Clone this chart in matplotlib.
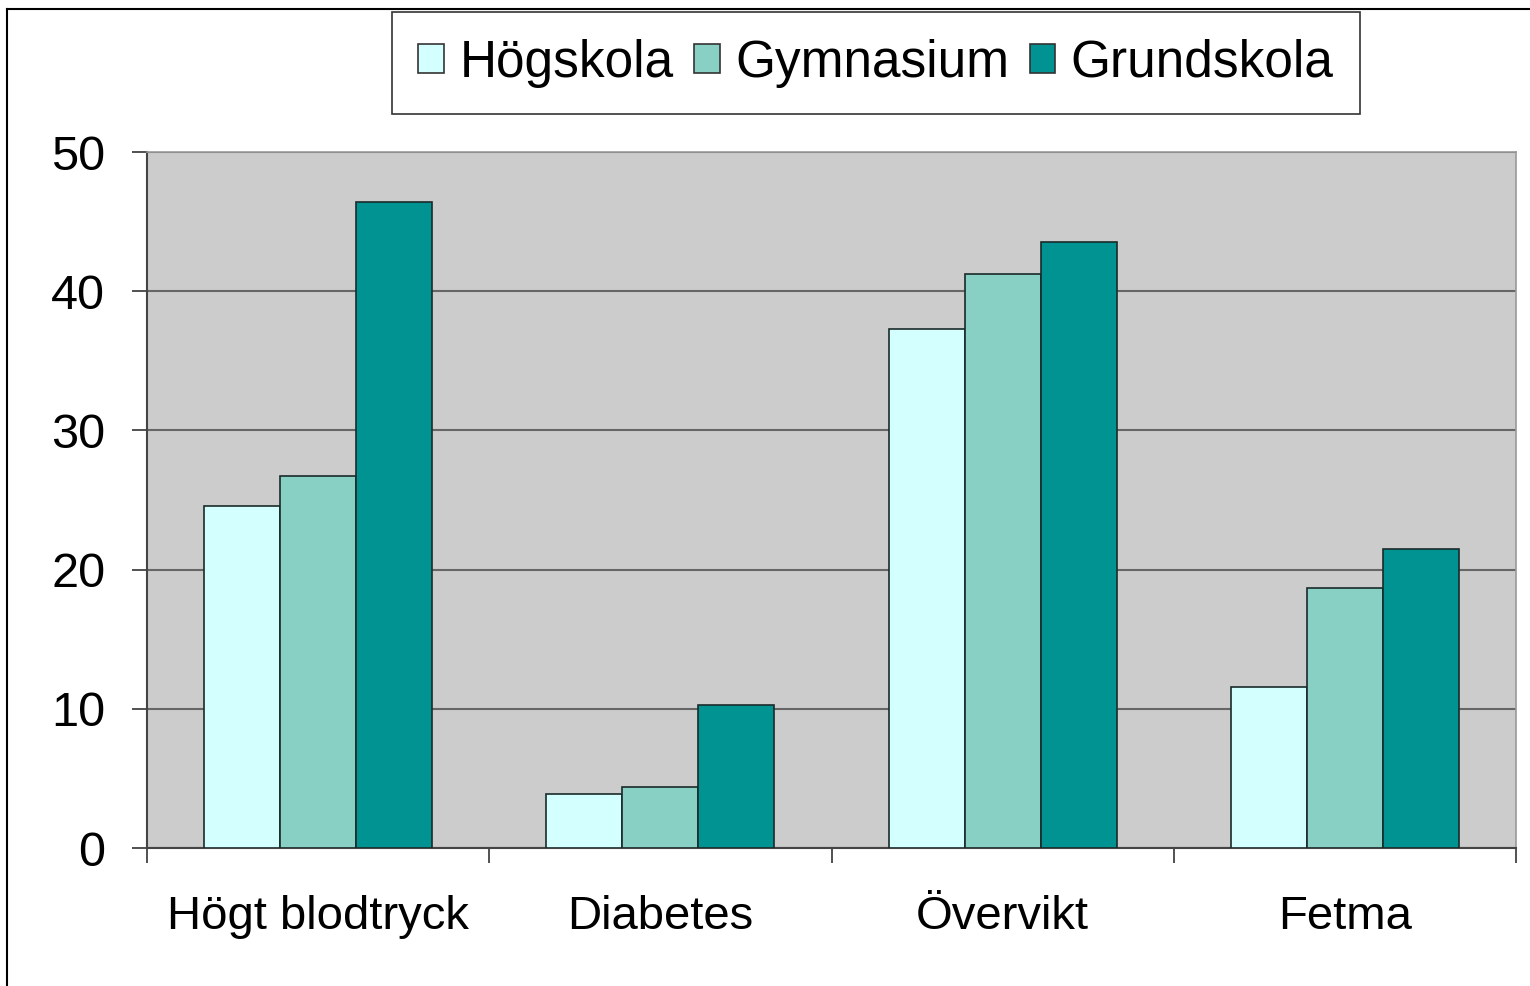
import numpy as np
import matplotlib
matplotlib.use('Agg')
import matplotlib.pyplot as plt
from matplotlib.lines import Line2D

plt.rcParams['font.family'] = ['Liberation Sans', 'DejaVu Sans']

categories = ['Högt blodtryck', 'Diabetes', 'Övervikt', 'Fetma']
series_names = ['Högskola', 'Gymnasium', 'Grundskola']
hogskola = [24.6, 3.9, 37.3, 11.6]
gymnasium = [26.7, 4.4, 41.2, 18.7]
grundskola = [46.4, 10.3, 43.5, 21.5]
colors = ['#D4FFFF', '#88CFC4', '#009391']

fig = plt.figure(figsize=(15.3, 9.86), dpi=100)
ax = fig.add_axes([147 / 1530, 1 - 848 / 986, (1516 - 147) / 1530, (848 - 152) / 986])
ax.set_facecolor('#CCCCCC')

x = np.arange(len(categories))
w = 0.222
for i, vals in enumerate([hogskola, gymnasium, grundskola]):
    ax.bar(x + (i - 1) * w, vals, w, color=colors[i], edgecolor='#1a2a2a',
           linewidth=1.2, label=series_names[i], zorder=3)

ax.set_xlim(-0.5, len(categories) - 0.5)
ax.set_ylim(0, 50)
ax.set_yticks([0, 10, 20, 30, 40, 50])
ax.yaxis.grid(True, color='#666666', linewidth=1.5, zorder=1)
ax.set_axisbelow(True)

ax.set_xticks(x)
ax.set_xticklabels(categories)
ax.set_xticks(np.arange(-0.5, len(categories), 1), minor=True)
ax.tick_params(axis='x', which='major', length=0, pad=34, labelsize=34)
ax.tick_params(axis='x', which='minor', length=11, width=1.2, color='#333333', direction='out')
ax.tick_params(axis='y', length=11, width=1.2, color='#333333', pad=19, labelsize=35)

for s in ['left', 'bottom']:
    ax.spines[s].set_color('#444444')
    ax.spines[s].set_linewidth(1.5)
for s in ['top', 'right']:
    ax.spines[s].set_color('#999999')
    ax.spines[s].set_linewidth(1.2)

leg = fig.legend(loc='center', bbox_to_anchor=(876 / 1530, 1 - 63 / 986), ncol=3,
                 fontsize=37, frameon=True, fancybox=False, edgecolor='black',
                 handlelength=0.5, handleheight=0.5, handletextpad=0.3,
                 columnspacing=0.4, borderpad=0.52, borderaxespad=0)
leg.get_frame().set_linewidth(1.2)
for h in leg.legend_handles:
    h.set_edgecolor('#333333')
    h.set_linewidth(1.2)

fig.add_artist(Line2D([7 / 1530, 7 / 1530], [0, 1 - 9 / 986], color='black', linewidth=1.5))
fig.add_artist(Line2D([7 / 1530, 1], [1 - 9 / 986, 1 - 9 / 986], color='black', linewidth=1.5))

fig.savefig('out.png', dpi=100)
